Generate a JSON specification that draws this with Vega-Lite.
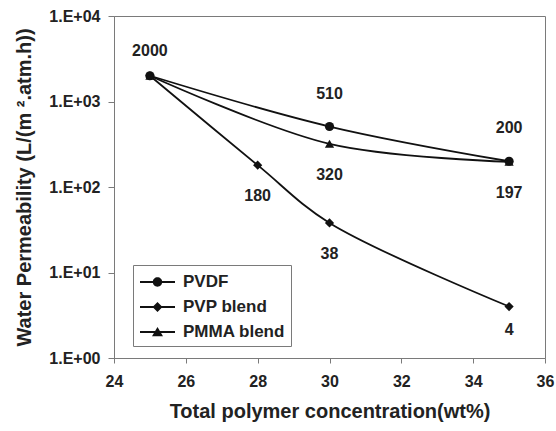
{
  "$schema": "https://vega.github.io/schema/vega-lite/v6.json",
  "width": 431,
  "height": 342,
  "autosize": {"type": "none"},
  "padding": {"left": 114, "top": 16, "right": 11, "bottom": 73},
  "background": "white",
  "config": {
    "font": "Liberation Sans",
    "view": {"stroke": "#7a7a7a", "strokeWidth": 1},
    "axis": {
      "grid": false,
      "domainColor": "#7a7a7a",
      "tickColor": "#7a7a7a",
      "labelFont": "Liberation Sans",
      "labelFontWeight": "bold",
      "labelFontSize": 16,
      "labelColor": "#222",
      "titleFont": "Liberation Sans",
      "titleFontWeight": "bold",
      "titleFontSize": 20,
      "titleColor": "#222"
    }
  },
  "datasets": {
    "pts": [
      {"series": "PVDF", "conc": 25, "perm": 2000},
      {"series": "PVDF", "conc": 30, "perm": 510},
      {"series": "PVDF", "conc": 35, "perm": 200},
      {"series": "PVP blend", "conc": 25, "perm": 2000},
      {"series": "PVP blend", "conc": 28, "perm": 180},
      {"series": "PVP blend", "conc": 30, "perm": 38},
      {"series": "PVP blend", "conc": 35, "perm": 4},
      {"series": "PMMA blend", "conc": 25, "perm": 2000},
      {"series": "PMMA blend", "conc": 30, "perm": 320},
      {"series": "PMMA blend", "conc": 35, "perm": 197}
    ]
  },
  "data": {"name": "pts"},
  "encoding": {
    "x": {
      "field": "conc",
      "type": "quantitative",
      "scale": {"domain": [24, 36], "nice": false, "zero": false},
      "axis": {
        "title": "Total polymer concentration(wt%)",
        "values": [24, 26, 28, 30, 32, 34, 36],
        "tickSize": 5,
        "labelPadding": 10,
        "titlePadding": 12,
        "labelFlush": false
      }
    },
    "y": {
      "field": "perm",
      "type": "quantitative",
      "scale": {"type": "log", "domain": [1, 10000], "nice": false},
      "axis": {
        "title": "Water Permeability (L/(m ².atm.h))",
        "values": [1, 10, 100, 1000, 10000],
        "labelExpr": "datum.value == 1 ? '1.E+00' : datum.value == 10 ? '1.E+01' : datum.value == 100 ? '1.E+02' : datum.value == 1000 ? '1.E+03' : '1.E+04'",
        "tickSize": 6,
        "labelPadding": 8,
        "titlePadding": 14,
        "labelFlush": false
      }
    }
  },
  "layer": [
    {
      "mark": {"type": "line", "interpolate": "catmull-rom", "color": "#111", "strokeWidth": 1.8},
      "encoding": {"detail": {"field": "series"}}
    },
    {
      "mark": {"type": "point", "filled": true, "color": "#111", "opacity": 1, "size": 85},
      "encoding": {
        "shape": {
          "field": "series",
          "type": "nominal",
          "scale": {"domain": ["PVDF", "PVP blend", "PMMA blend"], "range": ["circle", "diamond", "triangle-up"]},
          "legend": null
        }
      }
    },
    {
      "mark": {"type": "point", "filled": true, "color": "#111", "opacity": 0},
      "encoding": {
        "shape": {
          "field": "series",
          "type": "nominal",
          "scale": {
            "domain": ["PVDF", "PVP blend", "PMMA blend"],
            "range": [
              "M-1,-0.09L2.5,-0.09L2.5,0.09L-1,0.09ZM1.22,0A0.47,0.47,0,1,1,0.28,0A0.47,0.47,0,1,1,1.22,0Z",
              "M-1,-0.09L2.5,-0.09L2.5,0.09L-1,0.09ZM0.75,-0.5L1.25,0L0.75,0.5L0.25,0Z",
              "M-1,-0.09L2.5,-0.09L2.5,0.09L-1,0.09ZM0.75,-0.5L1.3,0.42L0.2,0.42Z"
            ]
          },
          "legend": {
            "title": null,
            "orient": "none",
            "legendX": 19,
            "legendY": 249,
            "symbolSize": 400,
            "symbolFillColor": "#111",
            "symbolOpacity": 1,
            "labelOffset": 22,
            "labelFont": "Liberation Sans",
            "labelFontWeight": "bold",
            "labelFontSize": 17,
            "labelColor": "#222",
            "rowPadding": 6,
            "padding": 6,
            "strokeColor": "#7a7a7a",
            "fillColor": "white"
          }
        }
      }
    },
    {
      "transform": [{"filter": "datum.series == 'PVDF' && datum.conc == 25"}],
      "mark": {"type": "text", "dy": -25, "font": "Liberation Sans", "fontWeight": "bold", "fontSize": 16, "color": "#222"},
      "encoding": {"text": {"field": "perm", "type": "quantitative", "format": "d"}}
    },
    {
      "transform": [{"filter": "datum.series == 'PVDF' && datum.conc != 25"}],
      "mark": {"type": "text", "dy": -33, "font": "Liberation Sans", "fontWeight": "bold", "fontSize": 16, "color": "#222"},
      "encoding": {"text": {"field": "perm", "type": "quantitative", "format": "d"}}
    },
    {
      "transform": [{"filter": "datum.series != 'PVDF' && datum.conc != 25 && datum.perm > 10"}],
      "mark": {"type": "text", "dy": 31, "font": "Liberation Sans", "fontWeight": "bold", "fontSize": 16, "color": "#222"},
      "encoding": {"text": {"field": "perm", "type": "quantitative", "format": "d"}}
    },
    {
      "transform": [{"filter": "datum.perm < 10"}],
      "mark": {"type": "text", "dy": 23, "font": "Liberation Sans", "fontWeight": "bold", "fontSize": 16, "color": "#222"},
      "encoding": {"text": {"field": "perm", "type": "quantitative", "format": "d"}}
    }
  ],
  "resolve": {"scale": {"shape": "independent"}, "legend": {"shape": "independent"}}
}
